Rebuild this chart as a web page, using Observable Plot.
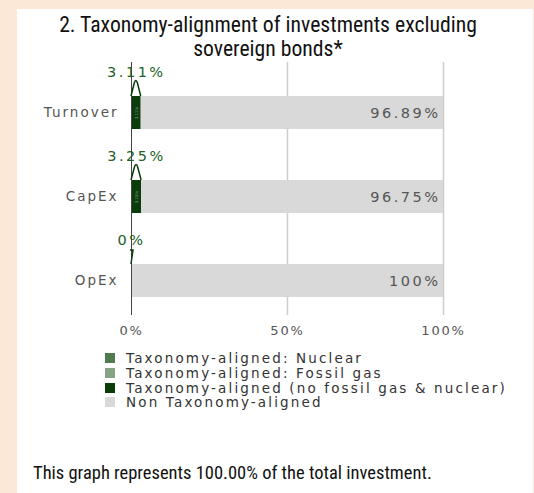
<!DOCTYPE html>
<html>
<head>
<meta charset="utf-8">
<script src="https://cdn.jsdelivr.net/npm/d3@7"></script>
<script src="https://cdn.jsdelivr.net/npm/@observablehq/plot@0.6"></script>
<style>
  html, body { margin: 0; padding: 0; }
  body { width: 534px; height: 493px; background: #fbe8d7; position: relative; overflow: hidden; }
  #card { position: absolute; left: 17px; top: 9px; width: 516px; height: 484px; background: #fff; }
  .tline { position: absolute; left: 0; width: 536px; height: 22px; text-align: center; white-space: nowrap;
    font-family: "Roboto Condensed", "Liberation Sans Narrow", Roboto, sans-serif; font-size: 21.7px; line-height: 22px; color: #111; }
  #chart { position: absolute; left: 0; top: 40px; }
  #legend { position: absolute; left: 105px; top: 351px; font-family: "DejaVu Sans", sans-serif; font-size: 13.5px; letter-spacing: 2.15px; color: #333; }
  .item { height: 14.7px; display: flex; align-items: center; white-space: nowrap; }
  .sw { width: 10px; height: 10px; margin-right: 11px; flex: none; }
  #caption { position: absolute; left: 33px; top: 462px; font-family: "Roboto Condensed", Roboto, sans-serif; font-size: 18.5px; color: #111; white-space: nowrap; }
  .ls-val text { letter-spacing: 2.5px; }
  .ls-y text { letter-spacing: 2px; }
  .ls-x text { letter-spacing: 1.8px; }
</style>
</head>
<body>
<div id="card"></div>
<div class="tline" style="top:14px">2. Taxonomy-alignment of investments excluding</div>
<div class="tline" style="top:38px">sovereign bonds*</div>
<div id="chart"></div>
<div id="legend"></div>
<div id="caption">This graph represents 100.00% of the total investment.</div>
<script>
const categories = ["Turnover", "CapEx", "OpEx"];
const nuclear = [0, 0, 0];
const fossilGas = [0, 0, 0];
const aligned = [3.11, 3.25, 0];
const nonAligned = [96.89, 96.75, 100];
const xTicks = [0, 50, 100];
const seriesNames = [
  "Taxonomy-aligned: Nuclear",
  "Taxonomy-aligned: Fossil gas",
  "Taxonomy-aligned (no fossil gas & nuclear)",
  "Non Taxonomy-aligned"
];
const seriesColors = ["#507a50", "#86a386", "#0b3d0b", "#d9d9d9"];

const seriesValues = [nuclear, fossilGas, aligned, nonAligned];
const rows = [];
categories.forEach((c, i) => {
  seriesNames.forEach((s, j) => rows.push({cat: c, series: s, value: seriesValues[j][i]}));
});
const cats = categories.map((c, i) => ({cat: c, aligned: aligned[i], non: nonAligned[i]}));

const green = "#22602a";

function callout(index, scales, values, dims, context) {
  const g = d3.create("svg:g");
  for (const i of index) {
    const x1 = values.x1[i], x2 = values.x2[i], top = values.y[i];
    const mid = (x1 + x2) / 2;
    let p;
    if (x2 - x1 < 1) {
      p = `M${x1},${top} L${x1 + 2},${top - 14} L${x1 - 1},${top - 14}`;
    } else {
      p = `M${x1},${top} L${mid - 1.6},${top - 13} Q${mid},${top - 18} ${mid + 1.6},${top - 13} L${x2},${top}`;
    }
    g.append("path").attr("d", p).attr("fill", "none").attr("stroke", "#0b3d0b").attr("stroke-width", 1.5);
  }
  return g.node();
}

const plot = Plot.plot({
  width: 534,
  height: 300,
  marginLeft: 131,
  marginRight: 91,
  marginTop: 22,
  marginBottom: 25,
  style: {fontFamily: "DejaVu Sans, sans-serif", fontSize: "13px", background: "transparent"},
  x: {domain: [0, 100], ticks: xTicks, label: null},
  y: {domain: categories, range: [5.5, 308.5], padding: 0.607, label: null},
  color: {domain: seriesNames, range: seriesColors},
  marks: [
    Plot.gridX(xTicks.filter(d => d > 0), {stroke: "#cccccc", strokeOpacity: 1, strokeWidth: 1.5}),
    Plot.barX(rows, {x: "value", y: "cat", fill: "series"}),
    Plot.ruleX([0], {stroke: "#444", strokeWidth: 1}),
    Plot.text(cats.filter(d => d.aligned > 0), {x: d => d.aligned / 2, y: "cat", text: d => `${d.aligned}%`, rotate: -90, fontSize: 4, fill: "#999"}),
    Plot.barX(cats, {x1: () => 0, x2: "aligned", y: "cat", render: callout}),
    Plot.text(cats, {x: d => d.aligned / 2, y: "cat", dy: -41, text: d => `${d.aligned}%`, fill: green, fontSize: 14.5, className: "ls-val"}),
    Plot.text(cats, {x: () => 100, y: "cat", dx: -3, textAnchor: "end", text: d => `${d.non}%`, fill: "#555", fontSize: 14.5, className: "ls-val"}),
    Plot.axisY({tickSize: 0, tickPadding: 13, color: "#555", fontSize: 13.5, label: null, className: "ls-y"}),
    Plot.axisX({ticks: xTicks, tickFormat: d => `${d}%`, tickSize: 0, tickPadding: 10, color: "#555", fontSize: 13, label: null, className: "ls-x"})
  ]
});
document.getElementById("chart").appendChild(plot);

const legend = d3.select("#legend");
seriesNames.forEach((s, j) => {
  const it = legend.append("div").attr("class", "item");
  it.append("div").attr("class", "sw").style("background", seriesColors[j]);
  it.append("span").text(s);
});
</script>
</body>
</html>
